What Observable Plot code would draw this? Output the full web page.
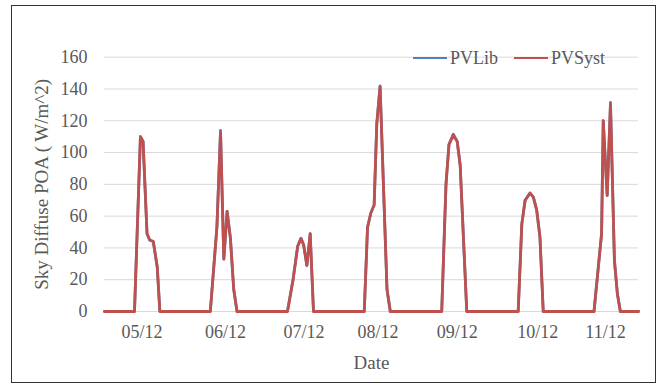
<!DOCTYPE html>
<html><head><meta charset="utf-8">
<script src="https://cdn.jsdelivr.net/npm/d3@7"></script>
<script src="https://cdn.jsdelivr.net/npm/@observablehq/plot@0.6"></script>
<style>
body{margin:0;background:#fff;}
#wrap{position:relative;width:664px;height:385px;overflow:hidden;font-family:"Liberation Serif",serif;background:#fff;}
#chart{position:absolute;left:0;top:0;}
#chart svg, #chart svg text{font-family:"Liberation Serif",serif !important;}
#border{position:absolute;left:11px;top:5px;width:645px;height:378px;border:1.5px solid #333;box-sizing:border-box;pointer-events:none;}
#legend{position:absolute;top:48px;left:413px;display:flex;align-items:center;font-size:18px;line-height:20px;color:#595959;font-family:"Liberation Serif",serif;}
#legend .sw{display:inline-block;width:34px;height:2.5px;margin-right:3px;}
#legend .item{display:flex;align-items:center;margin-right:16px;}
</style>
</head><body>
<div id="wrap"><div id="chart"></div><div id="legend"></div><div id="border"></div></div>
<script>
// Time axis in hours from the start of 05/12
const hours  = [0, 9.1, 10.9, 11.7, 12.9, 13.7, 14.8, 16.0, 16.8,
                32.1, 34.1, 35.2, 36.2, 37.2, 38.2, 39.2, 40.2,
                55.5, 57.2, 58.6, 59.6, 60.4, 61.4, 62.4, 63.4,
                78.8, 79.8, 80.8, 81.8, 82.6, 83.6, 85.7, 86.7,
                102.3, 103.6, 104.5, 105.8, 107.0, 107.9, 109.9,
                125.5, 126.6, 127.6, 129.1, 130.1, 131.1, 132.1, 133.1,
                148.5, 150.8, 151.3, 152.5, 153.5, 154.7, 155.6, 156.5, 162];
const pvsyst = [0, 0, 110, 107, 49, 45, 44, 28, 0,
                0, 53, 113, 33, 63, 46, 14, 0,
                0, 20, 41, 46, 42, 29, 49, 0,
                0, 53, 62, 67, 118, 141.5, 14, 0,
                0, 80, 105, 111, 107, 92, 0,
                0, 55, 70, 74.5, 72, 64, 47, 0,
                0, 49, 120, 73, 130.5, 32, 11, 0, 0];
const pvlib  = [0, 0, 110, 107, 49, 45, 44, 28, 0,
                0, 53, 114, 33, 63, 46, 14, 0,
                0, 20, 41, 46, 42, 29, 49, 0,
                0, 53, 62, 67, 118, 142, 14, 0,
                0, 80, 105, 111.5, 107, 92, 0,
                0, 55, 70, 74.5, 72, 64, 47, 0,
                0, 49, 120, 73, 131.5, 32, 11, 0, 0];
const tickHours  = [11.4, 36.7, 60.5, 83.0, 107.0, 131.4, 152.0];
const tickLabels = ["05/12", "06/12", "07/12", "08/12", "09/12", "10/12", "11/12"];
const yTicks = [0, 20, 40, 60, 80, 100, 120, 140, 160];
const seriesNames  = ["PVLib", "PVSyst"];
const seriesColors = ["#4F81BD", "#C0504D"];
const xTitle = "Date";
const yTitle = "Sky Diffuse POA ( W/m^2)";

const data = hours.map((h, i) => ({h, pvlib: pvlib[i], pvsyst: pvsyst[i]}));
const font = '"Liberation Serif", serif';

const chart = Plot.plot({
  width: 664, height: 385,
  marginLeft: 104, marginRight: 26, marginTop: 56.7, marginBottom: 74,
  x: {domain: [0, 162]},
  y: {domain: [0, 160]},
  style: {fontFamily: font, fontSize: "18px", color: "#595959", background: "transparent"},
  marks: [
    Plot.ruleY(yTicks, {stroke: "#d9d9d9", strokeWidth: 1}),
    Plot.axisY({ticks: yTicks, tickSize: 0, tickPadding: 17, label: null, fontSize: 18}),
    Plot.axisX({ticks: tickHours, tickFormat: d => tickLabels[tickHours.indexOf(d)], tickSize: 0, tickPadding: 14, label: null, fontSize: 18}),
    Plot.text([yTitle], {frameAnchor: "left", textAnchor: "middle", lineAnchor: "middle", rotate: -90, dx: -63, fontSize: 19, fill: "#595959"}),
    Plot.text([xTitle], {frameAnchor: "bottom", textAnchor: "middle", lineAnchor: "middle", dy: 51, fontSize: 19, fill: "#595959"}),
    Plot.line(data, {x: "h", y: "pvlib", stroke: seriesColors[0], strokeWidth: 2.8}),
    Plot.line(data, {x: "h", y: "pvsyst", stroke: seriesColors[1], strokeWidth: 2.8})
  ]
});
document.getElementById("chart").appendChild(chart);

const legend = document.getElementById("legend");
seriesNames.forEach((name, i) => {
  const item = document.createElement("div");
  item.className = "item";
  const sw = document.createElement("span");
  sw.className = "sw";
  sw.style.background = seriesColors[i];
  const t = document.createElement("span");
  t.textContent = name;
  item.appendChild(sw); item.appendChild(t);
  legend.appendChild(item);
});
</script>
</body></html>
